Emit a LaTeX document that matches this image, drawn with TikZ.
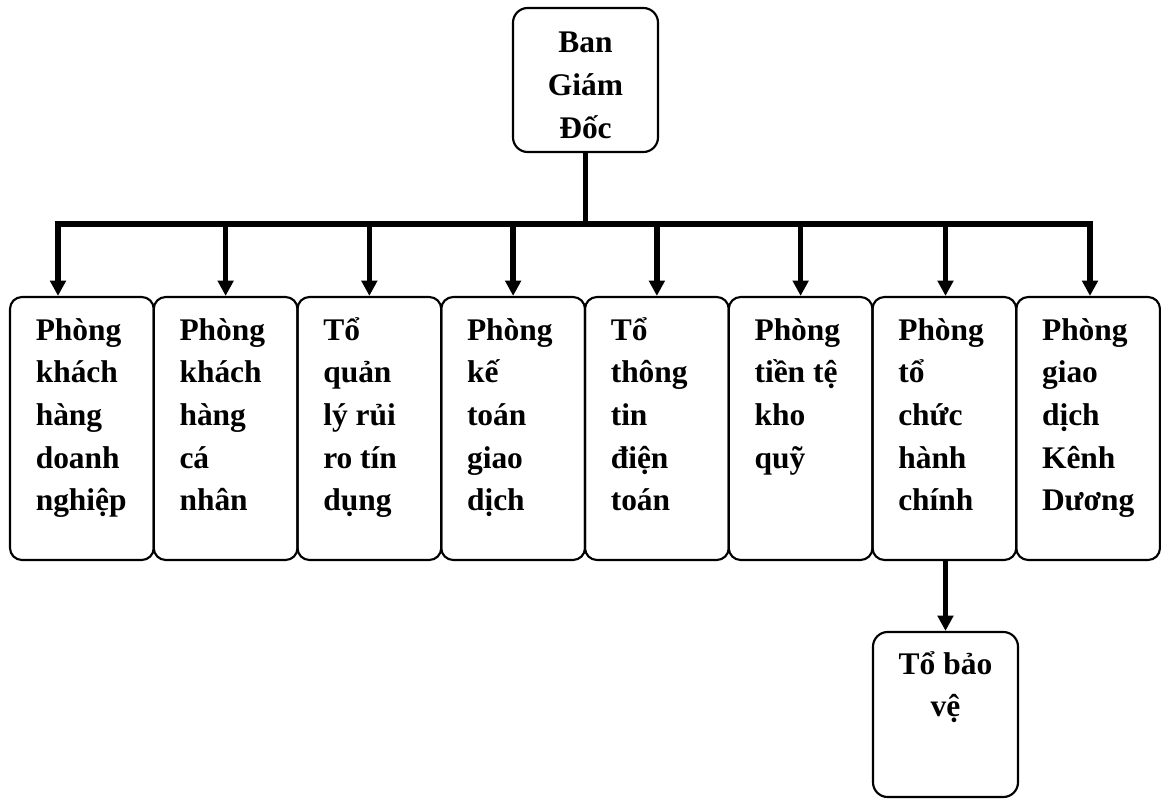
\documentclass[tikz,border=0pt]{standalone}
\usepackage{fontspec}
\setmainfont{Liberation Serif}
\usetikzlibrary{arrows.meta}
\begin{document}
\begin{tikzpicture}[x=0.75pt,y=-0.75pt,
  box/.style={draw, line width=1.6pt, rounded corners=9pt, inner sep=0pt,
    minimum width=107.81pt, minimum height=197.25pt},
  lbl/.style={anchor=base west, inner sep=0pt, font=\bfseries\fontsize{23.6}{32}\selectfont},
  clbl/.style={anchor=base, inner sep=0pt, font=\bfseries\fontsize{23.6}{32}\selectfont},
  arr/.style={line width=4pt, -{Triangle[length=11.5pt,width=11.5pt]}},
  bar/.style={line width=4.5pt}]
\useasboundingbox (0,0) rectangle (1161,799);

% top box
\node[draw, line width=1.6pt, rounded corners=11pt, inner sep=0pt,
  minimum width=108.75pt, minimum height=108pt] (top) at (585.5,80) {};
\node[clbl] (ttop) at (585.5,53) {\parbox[t]{100pt}{\centering Ban\\Giám\\Đốc}};

% department boxes
\node[box] (b1) at (81.875,428.5) {};
\node[box] (b2) at (225.625,428.5) {};
\node[box] (b3) at (369.375,428.5) {};
\node[box] (b4) at (513.125,428.5) {};
\node[box] (b5) at (656.875,428.5) {};
\node[box] (b6) at (800.625,428.5) {};
\node[box] (b7) at (944.375,428.5) {};
\node[box] (b8) at (1088.125,428.5) {};

\node[lbl] (t1) at (35.5,340) {\parbox[t]{100pt}{\raggedright Phòng\\khách\\hàng\\doanh\\nghiệp}};
\node[lbl] (t2) at (179.25,340) {\parbox[t]{100pt}{\raggedright Phòng\\khách\\hàng\\cá\\nhân}};
\node[lbl] (t3) at (323,340) {\parbox[t]{100pt}{\raggedright Tổ\\quản\\lý rủi\\ro tín\\dụng}};
\node[lbl] (t4) at (466.75,340) {\parbox[t]{100pt}{\raggedright Phòng\\kế\\toán\\giao\\dịch}};
\node[lbl] (t5) at (610.5,340) {\parbox[t]{100pt}{\raggedright Tổ\\thông\\tin\\điện\\toán}};
\node[lbl] (t6) at (754.25,340) {\parbox[t]{100pt}{\raggedright Phòng\\tiền tệ\\kho\\quỹ}};
\node[lbl] (t7) at (898,340) {\parbox[t]{100pt}{\raggedright Phòng\\tổ\\chức\\hành\\chính}};
\node[lbl] (t8) at (1041.75,340) {\parbox[t]{100pt}{\raggedright Phòng\\giao\\dịch\\Kênh\\Dương}};

% bottom box
\node[draw, line width=1.6pt, rounded corners=11pt, inner sep=0pt,
  minimum width=108.75pt, minimum height=123.75pt] (bv) at (945.5,714.5) {};
\node[clbl] (tbv) at (945.5,674) {\parbox[t]{100pt}{\centering Tổ bảo\\vệ}};

% bus
\coordinate (busL) at (55.3,224);
\coordinate (busR) at (1092.7,224);
\coordinate (j1) at (58,224);
\coordinate (j2) at (225.625,224);
\coordinate (j3) at (369.375,224);
\coordinate (j4) at (513.125,224);
\coordinate (j5) at (656.875,224);
\coordinate (j6) at (800.625,224);
\coordinate (j7) at (945.5,224);
\coordinate (j8) at (1090,224);

\draw[bar] (busL) -- (busR);
\draw[line width=3.5pt] (top.south) -- (top.south |- busL);
\foreach \i in {1,...,8} {
  \draw[arr] (j\i) -- (j\i |- b\i.north);
}
\draw[arr] (bv.north |- b7.south) -- (bv.north);
\end{tikzpicture}
\end{document}
